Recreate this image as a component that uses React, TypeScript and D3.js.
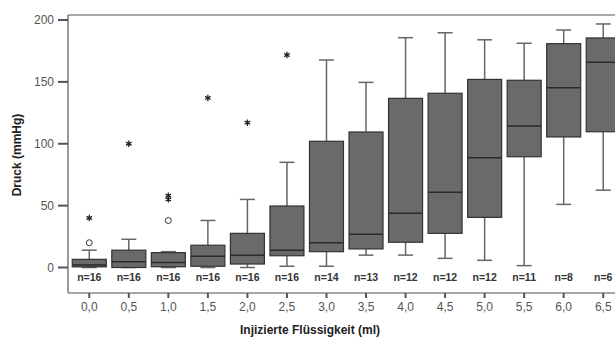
import React from "react";
import * as d3 from "d3";

const categories = ["0,0", "0,5", "1,0", "1,5", "2,0", "2,5", "3,0", "3,5", "4,0", "4,5", "5,0", "5,5", "6,0", "6,5"];
const counts = [16, 16, 16, 16, 16, 16, 14, 13, 12, 12, 12, 11, 8, 6];
const whiskerLow = [0, 0, 0, 0, 0, 1, 1, 10, 10, 7.4, 5.8, 1.5, 51, 62.5];
const q1 = [0.5, 0, 0.6, 1, 2.8, 9.5, 12.8, 15, 20.4, 27.6, 40.5, 89.5, 105.5, 109.7];
const medians = [2, 4.7, 4, 9, 10, 14, 20, 26.8, 43.8, 60.8, 88.7, 114.3, 145.3, 165.8];
const q3 = [6.6, 14, 12, 18, 27.6, 49.7, 102, 109.5, 136.7, 140.8, 152, 151.3, 180.9, 185.5];
const whiskerHigh = [14, 22.8, 12.8, 38, 55, 85, 167.7, 149.6, 185.7, 189.7, 184, 181.2, 191.9, 196.8];
// outliers: circles (mild) and stars (extreme)
const circleOutliers = [
  { cat: "0,0", value: 20 },
  { cat: "1,0", value: 38 },
];
const starOutliers = [
  { cat: "0,0", value: 40 },
  { cat: "0,5", value: 100 },
  { cat: "1,0", value: 55 },
  { cat: "1,0", value: 58 },
  { cat: "1,5", value: 137 },
  { cat: "2,0", value: 117 },
  { cat: "2,5", value: 171.7 },
];
const yTicks = [0, 50, 100, 150, 200];

const App = () => {
  const width = 615;
  const height = 339;
  const margins = { top: 15, left: 68, bottom: 293, right: 623 };

  const xScale = d3
    .scaleBand()
    .domain(categories)
    .range([margins.left + 1.5, margins.right]);

  const yScale = d3.scaleLinear().domain([0, 200]).range([267.5, 20]);

  const cx = (c) => xScale(c) + xScale.bandwidth() / 2;
  const boxW = 34;
  const capW = 15;
  const star = d3.symbol().type(d3.symbolAsterisk).size(28)();

  return (
    <svg
      width={width}
      height={height}
      style={{ position: "absolute", left: 0, top: 0, background: "#fff" }}
      fontFamily="'Liberation Sans', Arial, sans-serif"
    >
      {/* frame */}
      <line x1={margins.left} x2={margins.right} y1={margins.top} y2={margins.top} stroke="#aaa" strokeWidth={2} />
      <line x1={margins.left} x2={margins.left} y1={margins.top} y2={margins.bottom} stroke="#777" strokeWidth={1.5} />
      <line x1={margins.left} x2={margins.right} y1={margins.bottom} y2={margins.bottom} stroke="#888" strokeWidth={1.5} />

      {/* y axis */}
      {yTicks.map((t) => (
        <g key={t}>
          <line x1={58} x2={margins.left} y1={yScale(t)} y2={yScale(t)} stroke="#555" strokeWidth={2} />
          <text x={54} y={yScale(t)} dy="0.35em" textAnchor="end" fontSize={12} fill="#555">
            {t}
          </text>
        </g>
      ))}
      <text
        transform={`translate(21, ${155}) rotate(-90)`}
        textAnchor="middle"
        fontSize={12}
        fontWeight="bold"
        fill="#222"
      >
        Druck (mmHg)
      </text>

      {/* x axis */}
      {categories.map((c, i) => (
        <g key={c}>
          <line x1={cx(c)} x2={cx(c)} y1={margins.bottom} y2={298} stroke="#555" strokeWidth={2} />
          <text x={cx(c)} y={307} dy="0.35em" textAnchor="middle" fontSize={12} fill="#555">
            {c}
          </text>
          <text x={cx(c)} y={277.5} dy="0.35em" textAnchor="middle" fontSize={10.5} fontWeight="bold" fill="#333">
            {`n=${counts[i]}`}
          </text>
        </g>
      ))}
      <text x={310} y={330} dy="0.35em" textAnchor="middle" fontSize={12} fontWeight="bold" fill="#222">
        Injizierte Flüssigkeit (ml)
      </text>

      {/* boxes */}
      {categories.map((c, i) => {
        const x = cx(c);
        return (
          <g key={c}>
            <line x1={x} x2={x} y1={yScale(whiskerHigh[i])} y2={yScale(q3[i])} stroke="#666" strokeWidth={1.5} />
            <line x1={x} x2={x} y1={yScale(q1[i])} y2={yScale(whiskerLow[i])} stroke="#666" strokeWidth={1.5} />
            <line
              x1={x - capW / 2}
              x2={x + capW / 2}
              y1={yScale(whiskerHigh[i])}
              y2={yScale(whiskerHigh[i])}
              stroke="#666"
              strokeWidth={1.5}
            />
            <line
              x1={x - capW / 2}
              x2={x + capW / 2}
              y1={yScale(whiskerLow[i])}
              y2={yScale(whiskerLow[i])}
              stroke="#666"
              strokeWidth={1.5}
            />
            <rect
              x={x - boxW / 2}
              y={yScale(q3[i])}
              width={boxW}
              height={yScale(q1[i]) - yScale(q3[i])}
              fill="#6a6a6a"
              stroke="#333"
              strokeWidth={1.2}
            />
            <line
              x1={x - boxW / 2}
              x2={x + boxW / 2}
              y1={yScale(medians[i])}
              y2={yScale(medians[i])}
              stroke="#2a2a2a"
              strokeWidth={1.5}
            />
          </g>
        );
      })}

      {/* outliers */}
      {circleOutliers.map((d, i) => (
        <circle key={i} cx={cx(d.cat)} cy={yScale(d.value)} r={3} fill="#fff" stroke="#333" strokeWidth={1} />
      ))}
      {starOutliers.map((d, i) => (
        <path
          key={i}
          d={star}
          transform={`translate(${cx(d.cat)}, ${yScale(d.value)})`}
          fill="none"
          stroke="#222"
          strokeWidth={1.3}
        />
      ))}
    </svg>
  );
};

export default App;
